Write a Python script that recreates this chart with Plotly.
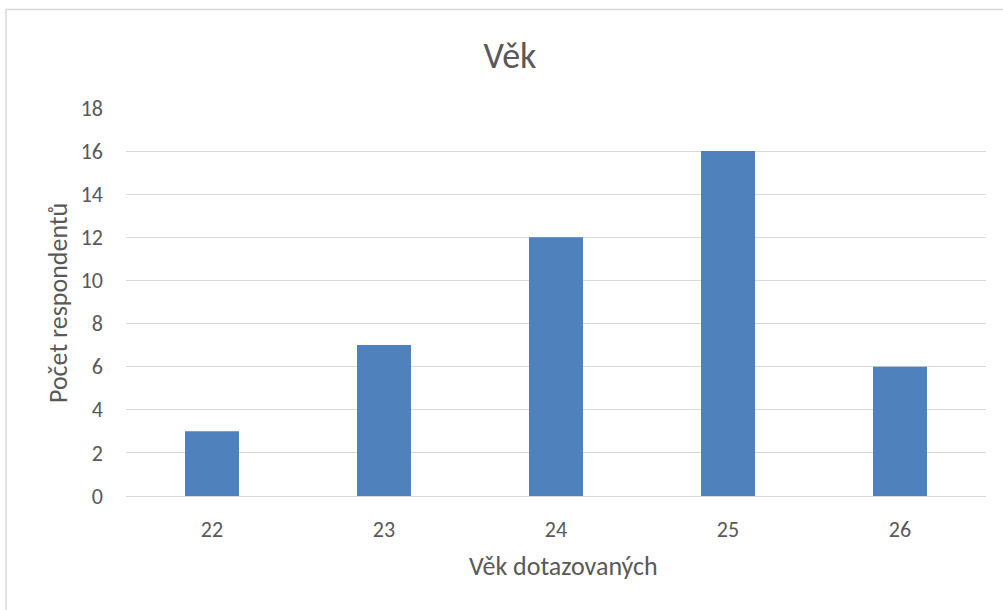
import plotly.graph_objects as go

categories = ["22", "23", "24", "25", "26"]
counts = [3, 7, 12, 16, 6]
y_ticks = [0, 2, 4, 6, 8, 10, 12, 14, 16, 18]

title_text = "Věk"
x_title = "Věk dotazovaných"
y_title = "Počet respondentů"

W, H = 1003, 610
L, R, T, B = 126, 17, 108, 114
pw, ph = W - L - R, H - T - B

font_family = "Calibri, Carlito, Lato, 'Open Sans', sans-serif"
txt = "#595959"
grid = "#D9D9D9"

fig = go.Figure(go.Bar(x=categories, y=counts, marker=dict(color="#4F81BD", line=dict(width=0)),
                       hoverinfo="x+y"))

fig.update_layout(
    width=W, height=H,
    margin=dict(l=L, r=R, t=T, b=B, autoexpand=False),
    paper_bgcolor="white", plot_bgcolor="white",
    bargap=0.686,
    showlegend=False,
    font=dict(family=font_family, color=txt, size=16),
    title=dict(text=title_text, x=510 / W, xanchor="center",
               y=1 - 55 / H, yanchor="middle", yref="container",
               font=dict(size=36, color=txt, family=font_family)),
    xaxis=dict(type="category", showgrid=False, showline=False, zeroline=False,
               ticks="", ticklabelstandoff=18, tickfont=dict(size=22, color=txt)),
    yaxis=dict(range=[0, 18], tickvals=y_ticks, showgrid=True, gridcolor=grid, gridwidth=1,
               zeroline=True, zerolinecolor=grid, zerolinewidth=1, showline=False,
               ticks="", ticklabelstandoff=22, tickfont=dict(size=22, color=txt)),
    annotations=[
        dict(text=x_title, xref="paper", yref="paper", x=(563 - L) / pw, y=(H - B - 566) / ph,
             xanchor="center", yanchor="middle", showarrow=False,
             font=dict(size=26, color=txt, family=font_family)),
        dict(text=y_title, xref="paper", yref="paper", x=(58 - L) / pw, y=(H - B - 303) / ph,
             xanchor="center", yanchor="middle", showarrow=False, textangle=-90,
             font=dict(size=26, color=txt, family=font_family)),
    ],
)

# outer chart border
fig.add_shape(type="rect", xref="paper", yref="paper",
              x0=(6 - L) / pw, x1=(1010 - L) / pw,
              y0=(H - B - 620) / ph, y1=(H - B - 9.5) / ph,
              line=dict(color="#D9D9D9", width=1.5), fillcolor="rgba(0,0,0,0)", layer="below")

fig.write_html("out.html", config={"displayModeBar": False},
               post_script="document.body.style.margin='0';document.body.style.padding='0';")
